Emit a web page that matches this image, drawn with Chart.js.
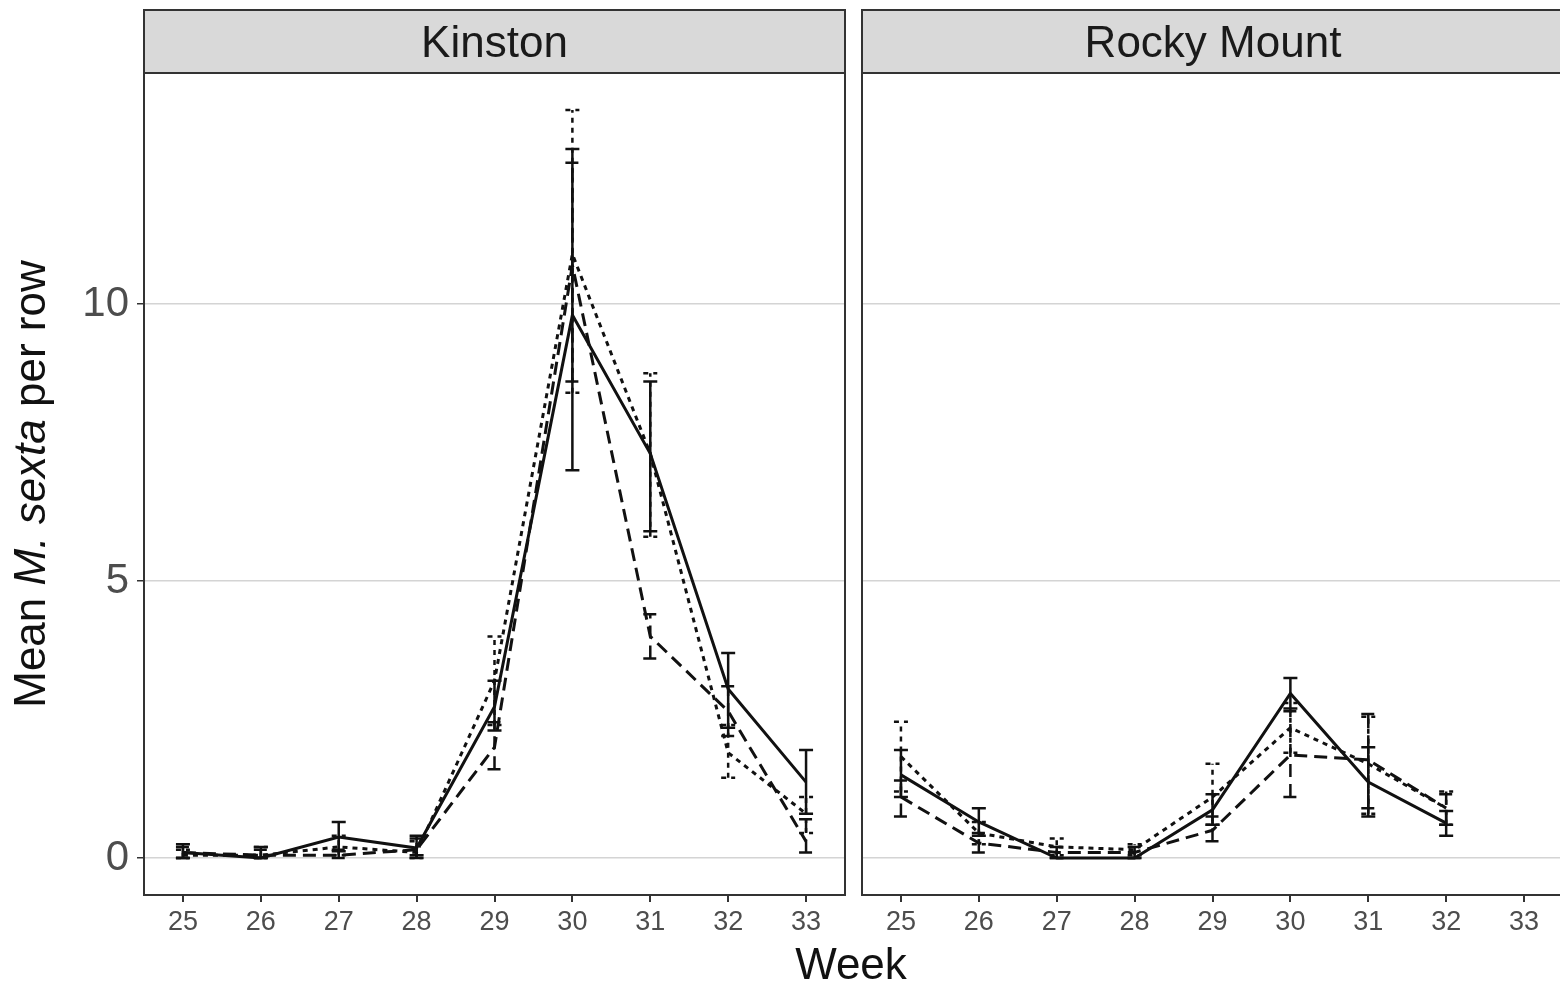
<!DOCTYPE html>
<html>
<head>
<meta charset="utf-8">
<script src="https://cdn.jsdelivr.net/npm/chart.js@4"></script>
<style>
  body { margin: 0; background: #fff; }
  #wrap { position: relative; width: 1560px; height: 984px; overflow: hidden; }
  #kin { position: absolute; left: 0; top: 0; }
  #rocky { position: absolute; left: 846px; top: 0; }
  #xtitle { position: absolute; left: 0; width: 1702px; top: 939px; text-align: center;
    font: 44px "Liberation Sans", Arial, sans-serif; color: #111; }
</style>
</head>
<body>
<div id="wrap">
  <canvas id="kin" width="847" height="984"></canvas>
  <canvas id="rocky" width="720" height="984"></canvas>
  <div id="xtitle">Week</div>
</div>
<script>
// weeks on the x axis
const weeks = [25, 26, 27, 28, 29, 30, 31, 32, 33]
const rockyWeeks = [25, 26, 27, 28, 29, 30, 31, 32]
const yTicks = [0, 5, 10]

// Kinston means and error bar ends
const kinSolid = [0.1, 0.0, 0.38, 0.18, 2.73, 9.8, 7.3, 3.05, 1.37]
const kinSolidLo = [0.0, 0.0, 0.12, 0.05, 2.3, 7.0, 5.9, 2.35, 0.8]
const kinSolidHi = [0.25, 0.2, 0.65, 0.4, 3.2, 12.8, 8.6, 3.7, 1.95]
const kinDashed = [0.1, 0.05, 0.05, 0.15, 2.0, 10.7, 4.0, 2.65, 0.3]
const kinDashedLo = [0.0, 0.0, 0.0, 0.0, 1.6, 8.6, 3.6, 2.2, 0.1]
const kinDashedHi = [0.2, 0.15, 0.15, 0.35, 2.45, 12.55, 4.4, 3.1, 0.7]
const kinDotted = [0.05, 0.05, 0.2, 0.1, 3.2, 10.9, 7.3, 1.9, 0.8]
const kinDottedLo = [0.0, 0.0, 0.05, 0.0, 2.4, 8.4, 5.8, 1.45, 0.45]
const kinDottedHi = [0.15, 0.2, 0.4, 0.3, 4.0, 13.5, 8.75, 2.4, 1.1]

// Rocky Mount means and error bar ends
const rmSolid = [1.5, 0.65, 0.0, 0.0, 0.87, 2.97, 1.37, 0.63]
const rmSolidLo = [1.1, 0.4, 0.0, 0.0, 0.6, 2.7, 0.75, 0.4]
const rmSolidHi = [1.95, 0.9, 0.0, 0.0, 1.15, 3.25, 2.0, 0.85]
const rmDashed = [1.1, 0.27, 0.1, 0.1, 0.5, 1.86, 1.77, 0.9]
const rmDashedLo = [0.75, 0.1, 0.0, 0.0, 0.3, 1.1, 0.9, 0.6]
const rmDashedHi = [1.4, 0.45, 0.2, 0.2, 0.75, 2.65, 2.6, 1.15]
const rmDotted = [1.83, 0.45, 0.2, 0.15, 1.1, 2.35, 1.7, 0.9]
const rmDottedLo = [1.2, 0.25, 0.05, 0.05, 0.6, 1.9, 0.8, 0.6]
const rmDottedHi = [2.46, 0.65, 0.35, 0.25, 1.7, 2.8, 2.55, 1.2]

const FONT = '"Liberation Sans", Arial, sans-serif'
const DASHES = { solid: [], dashed: [13, 7], dotted: [5, 5] }

// turn a series into a line dataset that also carries its error bars
function series(xs, ys, lo, hi, type) {
    return {
        data: xs.map((x, i) => ({ x: x, y: ys[i] })),
        lo: lo,
        hi: hi,
        borderColor: '#111',
        borderWidth: 3,
        borderDash: DASHES[type],
        pointRadius: 0,
        tension: 0,
        fill: false
    }
}

// draws error bars, the panel border and the grey strip
const panelPlugin = {
    id: 'panel',
    afterDatasetsDraw(chart) {
        const ctx = chart.ctx
        const xs = chart.scales.x, ys = chart.scales.y
        chart.data.datasets.forEach(ds => {
            ctx.save()
            ctx.strokeStyle = '#111'
            ctx.lineWidth = 2.5
            ctx.setLineDash(ds.borderDash)
            ds.data.forEach((p, i) => {
                const px = xs.getPixelForValue(p.x)
                const y1 = ys.getPixelForValue(ds.lo[i])
                const y2 = ys.getPixelForValue(ds.hi[i])
                ctx.beginPath()
                ctx.moveTo(px, y1); ctx.lineTo(px, y2)
                ctx.moveTo(px - 7, y1); ctx.lineTo(px + 7, y1)
                ctx.moveTo(px - 7, y2); ctx.lineTo(px + 7, y2)
                ctx.stroke()
            })
            ctx.restore()
        })
    },
    afterDraw(chart, args, opts) {
        const ctx = chart.ctx
        const a = chart.chartArea
        ctx.save()
        ctx.strokeStyle = '#333'
        ctx.lineWidth = 2
        ctx.strokeRect(a.left, a.top, a.right - a.left, a.bottom - a.top)
        ctx.fillStyle = '#d9d9d9'
        ctx.fillRect(a.left, 10, a.right - a.left, a.top - 10)
        ctx.strokeRect(a.left, 10, a.right - a.left, a.top - 10)
        ctx.fillStyle = '#1a1a1a'
        ctx.font = '44px ' + FONT
        ctx.textAlign = 'center'
        ctx.textBaseline = 'middle'
        const cx = opts.centerX !== undefined ? opts.centerX : (a.left + a.right) / 2
        ctx.fillText(opts.strip, cx, (a.top + 10) / 2 + 3)
        if (opts.yTitle) {
            // y title with italic species name
            const parts = [['Mean ', ''], ['M. sexta', 'italic '], [' per row', '']]
            let total = 0
            parts.forEach(p => { ctx.font = p[1] + '44px ' + FONT; total += ctx.measureText(p[0]).width })
            ctx.translate(33, (a.top + a.bottom) / 2)
            ctx.rotate(-Math.PI / 2)
            ctx.textAlign = 'left'
            ctx.fillStyle = '#111'
            let x = -total / 2
            parts.forEach(p => {
                ctx.font = p[1] + '44px ' + FONT
                ctx.fillText(p[0], x, 0)
                x += ctx.measureText(p[0]).width
            })
        }
        ctx.restore()
    }
}

function scalesFor(yWidth, showY) {
    return {
        x: {
            type: 'linear',
            min: 24.5,
            max: 33.5,
            afterBuildTicks: s => { s.ticks = weeks.map(v => ({ value: v })) },
            afterFit: s => { s.height = 89 },
            border: { display: false },
            grid: { drawOnChartArea: false, drawTicks: true, tickLength: 7, tickColor: '#333', lineWidth: 2 },
            ticks: { color: '#4d4d4d', font: { family: FONT, size: 27 }, padding: 4, maxRotation: 0 }
        },
        y: {
            min: -0.668,
            max: 14.17,
            afterBuildTicks: s => { s.ticks = yTicks.map(v => ({ value: v })) },
            afterFit: s => { s.width = yWidth },
            border: { display: false },
            grid: { color: '#d4d4d4', lineWidth: 1.5, drawTicks: showY, tickLength: 7, tickColor: '#333' },
            ticks: { display: showY, color: '#4d4d4d', font: { family: FONT, size: 42 }, padding: 8 }
        }
    }
}

const baseOpts = {
    responsive: false,
    animation: false,
    plugins: { legend: { display: false }, tooltip: { enabled: false } }
}

new Chart(document.querySelector('#kin').getContext('2d'), {
    type: 'line',
    data: {
        datasets: [
            series(weeks, kinSolid, kinSolidLo, kinSolidHi, 'solid'),
            series(weeks, kinDashed, kinDashedLo, kinDashedHi, 'dashed'),
            series(weeks, kinDotted, kinDottedLo, kinDottedHi, 'dotted')
        ]
    },
    options: Object.assign({}, baseOpts, {
        layout: { padding: { top: 73, right: 2, left: 0, bottom: 0 } },
        scales: scalesFor(144, true),
        plugins: Object.assign({}, baseOpts.plugins, { panel: { strip: 'Kinston', yTitle: true } })
    }),
    plugins: [panelPlugin]
})

new Chart(document.querySelector('#rocky').getContext('2d'), {
    type: 'line',
    data: {
        datasets: [
            series(rockyWeeks, rmSolid, rmSolidLo, rmSolidHi, 'solid'),
            series(rockyWeeks, rmDashed, rmDashedLo, rmDashedHi, 'dashed'),
            series(rockyWeeks, rmDotted, rmDottedLo, rmDottedHi, 'dotted')
        ]
    },
    options: Object.assign({}, baseOpts, {
        layout: { padding: { top: 73, right: 3, left: 0, bottom: 0 } },
        scales: scalesFor(16, false),
        plugins: Object.assign({}, baseOpts.plugins, { panel: { strip: 'Rocky Mount', centerX: 1213 - 846 } })
    }),
    plugins: [panelPlugin]
})
</script>
</body>
</html>
